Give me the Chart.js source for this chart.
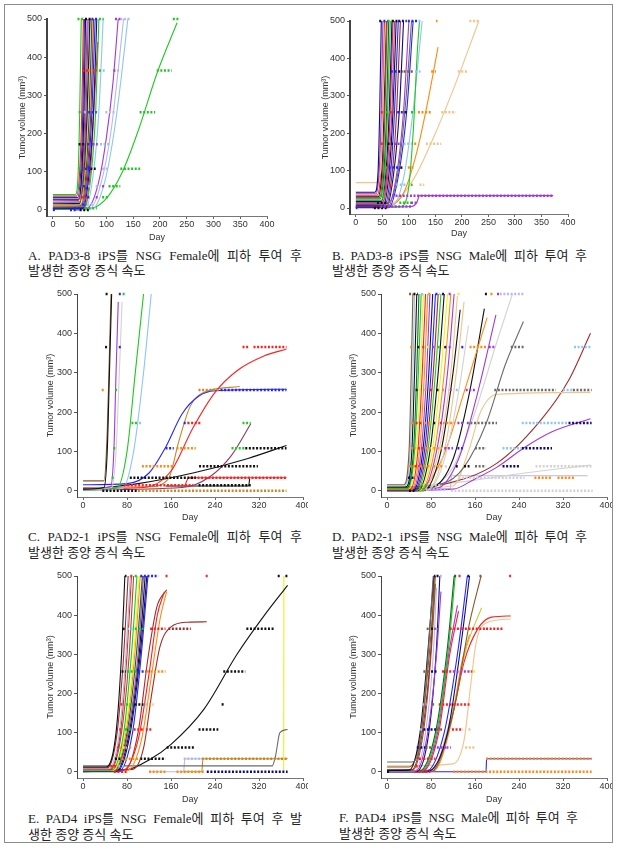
<!DOCTYPE html>
<html>
<head>
<meta charset="utf-8">
<script src="https://cdn.jsdelivr.net/npm/chart.js@4.4.1/dist/chart.umd.min.js"></script>
<style>
  body { margin: 0; background: #fff; width: 622px; height: 849px; position: relative; overflow: hidden; }
  .frame { position: absolute; left: 4px; top: 4px; width: 609px; height: 839px; border: 1.5px solid #8c8c8c; box-sizing: border-box; }
  .panel { position: absolute; overflow: hidden; }
  .panel canvas { position: absolute; left: 0; top: 0; }
  .cap { position: absolute; font-family: "Liberation Serif", "Noto Sans CJK KR", serif; font-size: 13px; line-height: 15px; color: #222; white-space: nowrap; }
  .cap .l1 { text-align: justify; text-align-last: justify; }
</style>
</head>
<body>
<div class="frame"></div>

<div class="cap" style="left:28px;top:248px;"><div class="l1" style="width:274px">A. PAD3-8 iPS를 NSG Female에 피하 투여 후</div><div>발생한 종양 증식 속도</div></div>
<div class="cap" style="left:332px;top:248px;"><div class="l1" style="width:255px">B. PAD3-8 iPS를 NSG Male에 피하 투여 후</div><div>발생한 종양 증식 속도</div></div>
<div class="cap" style="left:28px;top:529px;"><div class="l1" style="width:274px">C. PAD2-1 iPS를 NSG Female에 피하 투여 후</div><div style="margin-top:1px">발생한 종양 증식 속도</div></div>
<div class="cap" style="left:332px;top:529px;"><div class="l1" style="width:255px">D. PAD2-1 iPS를 NSG Male에 피하 투여 후</div><div style="margin-top:1px">발생한 종양 증식 속도</div></div>
<div class="cap" style="left:28px;top:811px;"><div class="l1" style="width:274px">E. PAD4 iPS를 NSG Female에 피하 투여 후 발</div><div style="margin-top:1px">생한 종양 증식 속도</div></div>
<div class="cap" style="left:339px;top:810px;"><div class="l1" style="width:239px">F. PAD4 iPS를 NSG Male에 피하 투여 후</div><div style="margin-top:1px">발생한 종양 증식 속도</div></div>

<script>
// tumor size levels used on the y axis: 0, 4, 14, 33, 62, 108, 172, 256, 365, 500

// ---- A. PAD3-8 / Female : fitted curves [day, volume] ----
const aCurves = [
  [[0,40],[42,40],[47,90],[50,250],[53,500]],
  [[0,36],[44,36],[50,100],[54,260],[57,500]],
  [[0,32],[46,32],[52,100],[56,260],[59,500]],
  [[0,28],[48,28],[54,100],[58,260],[61,500]],
  [[0,24],[48,25],[55,100],[60,260],[64,500]],
  [[0,20],[50,21],[57,100],[62,260],[66,500]],
  [[0,16],[50,17],[58,100],[64,260],[69,500]],
  [[0,13],[52,14],[60,100],[65,260],[70,500]],
  [[0,10],[52,11],[62,100],[68,260],[73,500]],
  [[0,7],[54,8],[64,100],[71,260],[76,500]],
  [[0,5],[55,6],[66,100],[73,260],[79,500]],
  [[0,3],[56,4],[68,100],[76,260],[82,500]],
  [[0,2],[58,3],[72,100],[80,260],[86,500]],
  [[0,5],[58,6],[70,100],[78,300],[84,440]],
  [[0,1],[60,2],[76,100],[86,260],[94,500]],
  [[40,0],[65,5],[85,70],[100,190],[112,330],[122,500]],
  [[40,0],[70,4],[90,70],[108,200],[120,340],[132,500]],
  [[45,0],[75,4],[98,80],[115,210],[128,350],[140,500]],
  [[40,0],[75,5],[100,30],[130,100],[160,210],[195,360],[232,490]]
];
const aCurveCols = ['g','r','b','k','p','br','n','o','dg','dr','b','n','g','r','lb','p','lv','lb','g'];
// measured points, as runs [firstDay, lastDay, volume]
const aRuns = [
  [46,58,500],[60,72,500],[72,84,500],[86,95,500],[116,126,500],[126,145,500],[224,235,500],
  [55,66,365],[66,74,365],[74,82,365],[86,90,365],[93,98,365],[113,118,365],[120,127,365],[194,222,365],
  [48,54,256],[58,64,256],[66,82,256],[98,116,256],[162,191,256],
  [48,60,172],[64,74,172],[74,84,172],[88,107,172],
  [48,54,108],[60,70,108],[70,80,108],[92,104,108],[126,163,108],
  [46,52,62],[56,62,62],[66,72,62],[80,88,62],[92,98,62],[104,126,62],
  [48,64,33],[64,70,33],[80,84,33],[92,104,33],
  [54,62,14],[64,76,14],
  [40,54,4],[60,82,4],
  [0,6,0],[32,45,0],[50,70,0]
];
const aRunCols = [
  'g','k','b','g','p','lv','g',
  'r','o','r','g','lb','p','lv','g',
  'g','lv','b','lv','g',
  'k','b','p','lb',
  'g','b','k','lv','g',
  'g','b','lv','lv','p','g',
  'r','b','p','g',
  'b','lv',
  'b','g',
  'b','b','k'
];

// ---- B. PAD3-8 / Male ----
const bCurves = [
  [[0,42],[36,42],[42,100],[45,260],[48,500]],
  [[0,38],[38,38],[44,100],[48,260],[51,500]],
  [[0,68],[40,68],[48,120],[52,300],[56,500]],
  [[0,34],[40,34],[47,100],[51,260],[54,500]],
  [[0,30],[42,30],[49,100],[53,260],[57,500]],
  [[0,27],[44,27],[51,100],[55,260],[59,500]],
  [[0,24],[46,24],[53,100],[58,260],[62,500]],
  [[0,20],[48,20],[55,100],[60,260],[65,500]],
  [[0,17],[48,17],[57,100],[63,260],[68,500]],
  [[0,14],[50,14],[59,100],[65,260],[70,500]],
  [[0,11],[50,11],[61,100],[68,260],[73,500]],
  [[0,8],[52,8],[63,100],[70,260],[76,500]],
  [[0,6],[54,6],[66,100],[73,260],[80,500]],
  [[0,4],[56,4],[69,100],[77,260],[84,500]],
  [[0,10],[60,12],[80,100],[95,300],[105,500]],
  [[0,3],[58,3],[72,100],[82,260],[90,500]],
  [[0,2],[60,2],[78,100],[90,260],[100,500]],
  [[0,1],[62,1],[82,100],[96,260],[108,500]],
  [[0,2],[84,4],[98,40],[108,200],[116,420],[120,500]],
  [[0,1],[66,2],[90,80],[108,260],[118,400],[125,500]],
  [[0,3],[60,6],[90,40],[115,150],[135,280],[155,430]],
  [[30,0],[70,12],[110,80],[150,200],[190,340],[232,500]],
  [[40,2],[105,4],[115,15],[120,33],[372,33]]
];
const bCurveCols = ['n','p','t','r','k','br','dg','g','n','r','p','k','b','dr','gy','n','p','b','g','lb','o','t','p'];
const bRuns = [
  [44,50,500],[52,60,500],[60,68,500],[68,80,500],[80,96,500],[98,118,500],[118,123,500],[151,154,500],[214,233,500],
  [66,80,365],[80,88,365],[90,108,365],[112,122,365],[142,151,365],[192,211,365],
  [47,54,256],[56,64,256],[64,72,256],[78,92,256],[92,98,256],[104,112,256],[117,142,256],[161,189,256],
  [47,54,172],[60,70,172],[72,84,172],[90,106,172],[110,114,172],[132,161,172],
  [55,62,108],[62,84,108],[84,90,108],[98,110,108],
  [62,70,62],[76,94,62],[104,107,62],[120,129,62],
  [44,54,33],[68,372,33],
  [40,58,14],[82,104,14],[104,116,14],
  [46,106,4],
  [0,3,0],[34,58,0]
];
const bRunCols = [
  'n','b','g','k','n','b','lb','o','t',
  'b','k','br','lb','o','t',
  'r','g','r','b','k','g','o','t',
  'r','k','p','lb','o','t',
  'g','b','k','o',
  'r','lb','g','t',
  'g','p',
  'k','g','p',
  'p',
  'b','k'
];

// ---- C. PAD2-1 / Female ----
const cCurves = [
  [[0,4],[38,8],[44,100],[48,300],[52,500]],
  [[0,25],[38,25],[44,150],[48,350],[51,500]],
  [[0,4],[50,10],[56,100],[60,300],[64,480]],
  [[0,3],[52,8],[60,100],[66,300],[71,480]],
  [[0,2],[62,8],[80,100],[95,300],[110,500]],
  [[0,1],[72,6],[92,100],[110,300],[124,500]],
  [[0,15],[80,18],[120,45],[150,110],[180,195],[210,240],[240,254],[370,258]],
  [[0,5],[110,8],[160,50],[200,160],[240,250],[280,305],[330,343],[370,360]],
  [[0,8],[120,10],[155,30],[175,130],[195,215],[220,250],[285,265]],
  [[0,2],[180,8],[230,35],[270,90],[305,170]],
  [[0,2],[100,18],[200,45],[300,82],[370,115]],
  [[150,12],[301,12],[303,30]],
  [[185,12],[192,33],[370,33]]
];
const cCurveCols = ['k','br','p','lg','g','lb','b','r','gd','mv','k','k','r'];
const cRuns = [
  [41,45,500],[65,69,500],[72,76,500],
  [40,44,365],[65,70,365],[290,302,365],[310,370,365],
  [34,38,256],[58,63,256],[210,248,256],[250,370,256],
  [88,98,172],[102,107,172],[183,190,172],[190,215,172],[290,305,172],
  [55,59,108],[150,165,108],[170,205,108],[270,295,108],[295,370,108],
  [107,164,62],[211,318,62],
  [52,56,33],[85,205,33],[195,370,33],
  [74,200,14],[210,305,14],
  [35,100,0],[100,370,0]
];
const cRunCols = [
  'k','b','g',
  'k','b','r','r',
  'o','g','gd','b',
  'g','lb','b','r','g',
  'g','b','o','g','k',
  'o','k',
  'g','k','r',
  'r','k',
  'k','gd'
];

// ---- D. PAD2-1 / Male ----
const dCurves = [
  [[0,15],[30,15],[40,100],[44,300],[47,500]],
  [[0,12],[32,12],[42,100],[47,300],[50,500]],
  [[0,10],[34,10],[45,100],[50,300],[54,500]],
  [[0,8],[36,8],[48,100],[54,300],[58,500]],
  [[0,6],[38,6],[50,100],[57,300],[62,500]],
  [[0,5],[40,5],[53,100],[61,300],[66,500]],
  [[0,4],[42,4],[56,100],[64,300],[70,500]],
  [[0,3],[44,3],[59,100],[68,300],[74,500]],
  [[0,2],[46,2],[62,100],[72,300],[78,500]],
  [[0,2],[48,2],[65,100],[76,300],[83,500]],
  [[0,1],[50,1],[68,100],[80,300],[88,500]],
  [[0,1],[52,1],[71,100],[84,300],[93,500]],
  [[0,0],[54,0],[74,100],[88,300],[98,500]],
  [[0,0],[56,0],[78,100],[93,300],[104,500]],
  [[0,0],[58,0],[82,100],[98,300],[110,500]],
  [[0,0],[60,0],[86,100],[104,300],[116,500]],
  [[0,0],[62,0],[90,100],[110,300],[122,500]],
  [[0,0],[64,0],[94,100],[116,300],[128,495]],
  [[0,0],[66,0],[98,100],[120,300],[133,460]],
  [[0,0],[70,0],[104,100],[126,300],[140,480]],
  [[0,0],[70,0],[100,60],[130,250],[148,420]],
  [[0,5],[60,8],[100,80],[140,250],[182,440]],
  [[0,3],[80,8],[120,80],[150,250],[177,463]],
  [[0,2],[90,6],[130,80],[165,250],[198,447]],
  [[0,8],[100,18],[140,60],[180,170],[215,320],[248,430]],
  [[0,2],[80,10],[120,60],[160,200],[200,380],[228,500]],
  [[0,5],[120,12],[148,100],[170,200],[200,245],[370,250]],
  [[0,2],[100,15],[200,70],[280,180],[330,280],[370,400]],
  [[0,0],[120,4],[160,30],[200,60],[250,110],[300,150],[370,183]],
  [[0,0],[150,25],[250,45],[370,65]],
  [[0,5],[115,5],[117,38],[365,38]]
];
const dCurveCols = ['br','lb','k','dg','g','y','r','o','p','n','b','dr','g','k','y','o','p','t','k','t','lg','o','k','p','gy','lg','t','dr','p','lg','lv'];
const dRuns = [
  [40,48,500],[48,56,500],[62,68,500],[75,80,500],[88,95,500],[100,104,500],[112,118,500],[128,132,500],[178,182,500],[188,192,500],[200,204,500],[205,250,500],
  [42,46,365],[55,60,365],[64,70,365],[72,76,365],[82,86,365],[92,98,365],[104,108,365],[112,118,365],[135,140,365],[150,182,365],[185,196,365],[225,250,365],[340,372,365],
  [52,56,256],[58,64,256],[68,74,256],[78,84,256],[90,96,256],[100,106,256],[114,120,256],[125,130,256],[143,162,256],[195,307,256],[320,338,256],[338,372,256],
  [44,50,172],[52,64,172],[68,80,172],[84,90,172],[96,104,172],[108,124,172],[128,140,172],[145,200,172],[245,330,172],[330,372,172],
  [44,52,108],[56,66,108],[70,80,108],[84,100,108],[104,120,108],[128,140,108],[160,180,108],[210,245,108],[245,300,108],
  [40,48,62],[50,58,62],[60,80,62],[84,100,62],[105,110,62],[125,130,62],[140,150,62],[160,180,62],[210,240,62],[270,372,62],
  [38,50,33],[130,250,33],[268,298,33],[310,340,33],
  [62,72,14],[80,100,14],
  [58,70,4],[70,110,4],
  [40,50,0],[116,374,0]
];
const dRunCols = [
  'br','k','lb','o','b','n','p','y','k','o','p','lv',
  'o','k','r','y','p','g','n','p','b','o','p','gy','lb',
  'k','y','o','r','k','o','p','lb','p','gy','lb','gy',
  'o','r','o','k','r','o','p','gy','lb','n',
  'o','r','o','o','p','b','gy','lb','n',
  'o','r','o','o','lg','k','k','gy','n','lg',
  'n','lg','o','o',
  'g','lg',
  'g','lv',
  'k','lg'
];

// ---- E. PAD4 / Female ----
const eCurves = [
  [[0,12],[42,12],[60,100],[70,300],[76,500]],
  [[0,10],[44,10],[62,100],[74,300],[82,500]],
  [[0,8],[46,8],[66,100],[78,300],[86,500]],
  [[0,6],[48,6],[68,100],[80,300],[88,500]],
  [[0,5],[50,5],[70,100],[84,300],[92,500]],
  [[0,4],[52,4],[74,100],[88,300],[98,500]],
  [[0,3],[54,3],[76,100],[92,300],[102,500]],
  [[0,3],[55,3],[78,100],[94,300],[104,500]],
  [[0,2],[56,2],[80,100],[97,300],[108,500]],
  [[0,2],[58,2],[82,100],[100,300],[110,500]],
  [[0,1],[60,1],[84,100],[102,300],[113,500]],
  [[0,1],[62,1],[86,100],[104,300],[116,500]],
  [[0,0],[64,0],[90,100],[106,300],[118,500]],
  [[0,1],[70,2],[100,80],[120,250],[135,400],[148,460]],
  [[0,2],[80,3],[106,80],[126,260],[140,390],[152,460]],
  [[0,3],[76,4],[100,100],[118,290],[134,420],[152,465]],
  [[0,4],[90,6],[110,60],[125,200],[140,320],[160,370],[190,382],[225,383]],
  [[0,0],[80,5],[120,30],[160,70],[220,160],[280,300],[330,400],[372,476]],
  [[0,15],[344,15],[350,40],[358,100],[372,108]],
  [[364.8,0],[365.2,500]],
  [[120,0],[183,0],[185,33],[220,33]],
  [[180,0],[216,0],[218,33],[372,33]]
];
const eCurveCols = ['k','dr','lb','r','br','g','y','o','dg','p','k','n','b','r','o','dr','dr','k','gy','y','lv','gd'];
const eRuns = [
  [76,79,500],[86,90,500],[94,100,500],[104,137,500],[150,155,500],[223,227,500],[354,358,500],[368,372,500],
  [72,76,365],[80,92,365],[94,110,365],[122,150,365],[155,196,365],[297,349,365],
  [70,78,256],[80,100,256],[100,114,256],[116,150,256],[255,295,256],
  [68,74,172],[78,92,172],[94,110,172],[112,116,172],[120,128,172],[252,256,172],
  [66,72,108],[76,88,108],[92,110,108],[114,126,108],[210,246,108],
  [62,70,62],[72,80,62],[84,90,62],[152,204,62],
  [58,68,33],[70,104,33],[104,150,33],[183,216,33],[216,372,33],
  [50,62,14],[64,76,14],
  [56,80,0],[120,150,0],[170,220,0],[225,372,0]
];
const eRunCols = [
  'k','r','g','b','r','r','k','k',
  'k','lb','g','r','dr','k',
  'k','g','b','o','k',
  'r','g','k','lb','o','k',
  'r','g','r','r','k',
  'r','y','o','k',
  'k','o','k','lv','gd',
  'r','lb',
  'r','o','o','n'
];

// ---- F. PAD4 / Male ----
const fCurves = [
  [[0,25],[45,25],[58,60],[72,250],[84,500]],
  [[0,3],[40,4],[60,100],[75,320],[85,500]],
  [[0,12],[40,12],[62,100],[78,320],[88,500]],
  [[0,5],[45,5],[64,100],[80,320],[86,500]],
  [[0,4],[46,4],[66,100],[80,300],[88,480]],
  [[0,2],[50,2],[70,100],[84,300],[90,470]],
  [[0,2],[52,2],[74,100],[90,300],[98,460]],
  [[0,1],[54,1],[76,100],[90,320],[96,500]],
  [[0,1],[58,1],[88,100],[110,320],[122,500]],
  [[0,1],[60,1],[90,100],[112,320],[124,500]],
  [[0,1],[62,1],[92,100],[112,300],[128,425]],
  [[0,1],[64,1],[94,100],[114,300],[130,410]],
  [[0,0],[70,0],[104,100],[130,320],[146,500]],
  [[0,0],[72,0],[110,100],[134,320],[150,500]],
  [[0,0],[80,0],[120,150],[150,380],[171,500]],
  [[0,0],[80,0],[118,150],[145,320],[172,419]],
  [[0,2],[80,4],[120,150],[140,280],[165,365],[190,395],[225,398]],
  [[0,1],[84,2],[116,120],[136,280],[150,350]],
  [[0,15],[40,15],[120,20],[140,80],[152,220],[162,330],[180,380],[225,390]],
  [[0,0],[180,0],[181,33],[372,33]]
];
const fCurveCols = ['gy','k','br','dr','br','lv','p','n','dg','g','p','r','b','n','br','ol','r','o','t','b'];
const fRuns = [
  [85,88,500],[90,94,500],[96,100,500],[122,126,500],[130,134,500],[146,152,500],[168,172,500],[222,226,500],
  [72,78,365],[80,88,365],[88,94,365],[114,135,365],[135,180,365],[180,210,365],
  [66,78,256],[80,90,256],[100,120,256],[120,155,256],[150,160,256],
  [64,72,172],[82,86,172],[94,150,172],
  [60,66,108],[66,90,108],[90,100,108],[118,138,108],[148,154,108],
  [54,70,62],[70,82,62],[84,108,62],[108,116,62],[142,160,62],
  [58,66,33],[66,88,33],[180,372,33],
  [52,60,14],
  [0,4,0],[50,78,0],[120,372,0]
];
const fRunCols = [
  'n','k','lv','dg','r','n','br','r',
  'br','k','lv','r','r','r',
  'br','n','r','p','y',
  'lv','gy','r',
  'lv','n','br','r','t',
  'n','br','p','p','t',
  'r','r','o',
  'r',
  'k','r','o'
];

const palette = {
  k: '#111111', r: '#ff1f1f', b: '#2323ff', g: '#1ec81e', p: '#a13ad8', n: '#0b0b80',
  o: '#ff8a12', br: '#8b5a2b', lb: '#8cc6f2', lv: '#b7b7f2', dr: '#a52a2a', y: '#f0f01a',
  dg: '#0d6a1e', gy: '#6b6b6b', lg: '#d2d2d2', t: '#f2c38a', gd: '#c8862a', mv: '#8b3a62',
  ol: '#c8c83a'
};

// panel placement on the page (canvas box, clip width, axis box sizes)
const panels = [
  { id: 'A', curves: aCurves, curveCols: aCurveCols, runs: aRuns, runCols: aRunCols, step: 50,
    left: 10, top: 11, w: 269, h: 232, clipW: 269, yW: 37, xH: 27, tPad: 7.6, yBorder: 2 },
  { id: 'B', curves: bCurves, curveCols: bCurveCols, runs: bRuns, runCols: bRunCols, step: 50,
    left: 315, top: 13, w: 265, h: 226, clipW: 265, yW: 35, xH: 25, tPad: 5.6, yBorder: 2 },
  { id: 'C', curves: cCurves, curveCols: cCurveCols, runs: cRuns, runCols: cRunCols, step: 80,
    left: 40, top: 286, w: 275, h: 237, clipW: 268, yW: 37, xH: 26, tPad: 5.6, yBorder: 1 },
  { id: 'D', curves: dCurves, curveCols: dCurveCols, runs: dRuns, runCols: dRunCols, step: 80,
    left: 343, top: 286, w: 276, h: 237, clipW: 269, yW: 38, xH: 26, tPad: 5.6, yBorder: 1 },
  { id: 'E', curves: eCurves, curveCols: eCurveCols, runs: eRuns, runCols: eRunCols, step: 80,
    left: 40, top: 568, w: 275, h: 237, clipW: 268, yW: 37, xH: 27, tPad: 5.6, yBorder: 1 },
  { id: 'F', curves: fCurves, curveCols: fCurveCols, runs: fRuns, runCols: fRunCols, step: 80,
    left: 343, top: 568, w: 276, h: 237, clipW: 269, yW: 38, xH: 27, tPad: 5.6, yBorder: 1 }
];

const tickFont = { family: 'Liberation Sans, Arial, sans-serif', size: 9 };

function buildDatasets(P) {
  const runSets = P.runs.map((r, i) => ({
    data: [{ x: r[0], y: r[2] }, { x: r[1], y: r[2] }],
    borderColor: palette[P.runCols[i]],
    borderWidth: 2.5,
    borderDash: [2, 1.6],
    pointRadius: 0,
    clip: 3,
    order: 1
  }));
  const curveSets = P.curves.map((pts, i) => ({
    data: pts.map(p => ({ x: p[0], y: p[1] })),
    borderColor: palette[P.curveCols[i]],
    borderWidth: 1.1,
    pointRadius: 0,
    cubicInterpolationMode: 'monotone',
    clip: 3,
    order: 2
  }));
  return runSets.concat(curveSets);
}

function renderPanel(P) {
  const box = document.createElement('div');
  box.className = 'panel';
  box.style.left = P.left + 'px';
  box.style.top = P.top + 'px';
  box.style.width = P.clipW + 'px';
  box.style.height = P.h + 'px';
  const cv = document.createElement('canvas');
  cv.width = P.w;
  cv.height = P.h;
  box.appendChild(cv);
  document.body.appendChild(box);

  new Chart(cv.getContext('2d'), {
    type: 'line',
    data: { datasets: buildDatasets(P) },
    options: {
      responsive: false,
      animation: false,
      devicePixelRatio: 1,
      layout: { padding: { top: 8, right: 12, left: 0, bottom: 0 } },
      plugins: { legend: { display: false }, tooltip: { enabled: false } },
      scales: {
        x: {
          type: 'linear', min: -11, max: 400,
          ticks: { stepSize: P.step, includeBounds: false, autoSkip: false, maxRotation: 0,
                   color: '#333', font: tickFont, padding: 0 },
          grid: { drawOnChartArea: false, tickLength: 3, color: '#666' },
          border: { display: true, color: '#777', width: 1 },
          title: { display: true, text: 'Day', color: '#333', font: tickFont, padding: 0 },
          afterFit: s => { s.height = P.xH; }
        },
        y: {
          type: 'linear', min: -16, max: 500,
          ticks: { stepSize: 100, includeBounds: false, color: '#333', font: tickFont, padding: 2 },
          grid: { drawOnChartArea: false, tickLength: 3, color: '#555' },
          border: { display: true, color: '#444', width: P.yBorder },
          title: { display: true, text: 'Tumor volume (mm³)', color: '#333', font: tickFont,
                   padding: { top: P.tPad, bottom: 0 } },
          afterFit: s => { s.width = P.yW; }
        }
      }
    }
  });
}

panels.forEach(renderPanel);
</script>
</body>
</html>
